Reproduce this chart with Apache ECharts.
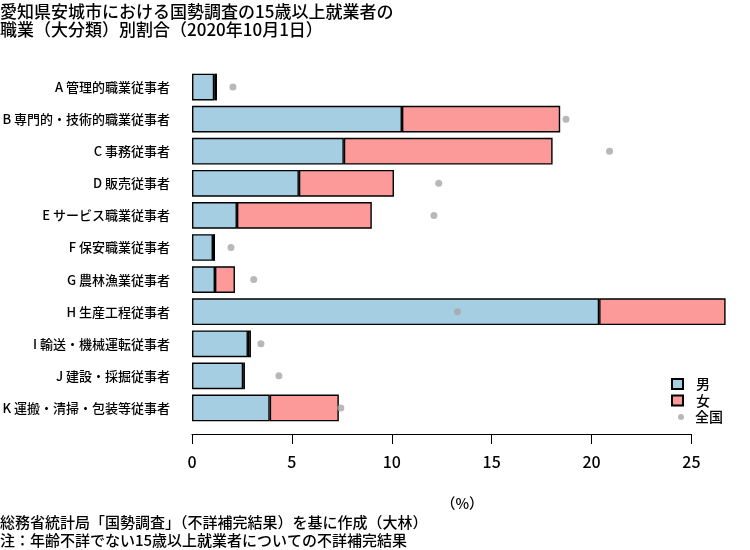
<!DOCTYPE html>
<html>
<head>
<meta charset="utf-8">
<script src="https://cdn.jsdelivr.net/npm/echarts@6/dist/echarts.min.js"></script>
<style>
html,body{margin:0;padding:0;background:#fff;}
#c{width:750px;height:550px;}
</style>
</head>
<body>
<div id="c"></div>
<script>
const categories = [
  'A 管理的職業従事者',
  'B 専門的・技術的職業従事者',
  'C 事務従事者',
  'D 販売従事者',
  'E サービス職業従事者',
  'F 保安職業従事者',
  'G 農林漁業従事者',
  'H 生産工程従事者',
  'I 輸送・機械運転従事者',
  'J 建設・採掘従事者',
  'K 運搬・清掃・包装等従事者'
];
const male =     [1.11, 10.51, 7.60, 5.35, 2.25, 1.05, 1.15, 20.38, 2.80, 2.56, 3.89];
const female =   [0.14,  7.92, 10.45, 4.76, 6.75, 0.10, 1.00, 6.33, 0.15, 0.09, 3.46];
const national = [2.05, 18.72, 20.90, 12.35, 12.11, 1.95, 3.09, 13.29, 3.45, 4.35, 7.45];
const xTicks = [0, 5, 10, 15, 20, 25];

const FONT = '"Noto Sans CJK JP", "Noto Sans", sans-serif';
const W = 500;
const chart = echarts.init(document.getElementById('c'), null, {renderer: 'canvas'});

const option = {
  backgroundColor: '#ffffff',
  animation: false,
  textStyle: {fontFamily: FONT, color: '#000'},
  title: [
    {
      text: '愛知県安城市における国勢調査の15歳以上就業者の\n職業（大分類）別割合（2020年10月1日）',
      left: 0, top: 3, padding: 0,
      textStyle: {fontFamily: FONT, fontSize: 17, lineHeight: 18, fontWeight: W, color: '#000'}
    },
    {
      text: '（%）',
      left: 441, top: 494, padding: 0,
      textStyle: {fontFamily: FONT, fontSize: 14.5, lineHeight: 18, fontWeight: W, color: '#000'}
    },
    {
      text: '総務省統計局「国勢調査」（不詳補完結果）を基に作成（大林）\n注：年齢不詳でない15歳以上就業者についての不詳補完結果',
      left: 0, top: 513, padding: 0,
      textStyle: {fontFamily: FONT, fontSize: 15, lineHeight: 18, fontWeight: W, color: '#000'}
    }
  ],
  legend: [
    {
      data: [{name: '男', icon: 'rect'}, {name: '女', icon: 'rect'}],
      orient: 'vertical',
      left: 671, top: 376, padding: 0,
      itemWidth: 11, itemHeight: 10, itemGap: 0.5,
      textStyle: {fontFamily: FONT, fontSize: 14, lineHeight: 16, fontWeight: W, color: '#000', padding: [0, 0, 0, 8]}
    },
    {
      data: [{name: '全国', icon: 'circle'}],
      orient: 'vertical',
      left: 678, top: 409, padding: 0,
      itemWidth: 6, itemHeight: 6, itemGap: 0,
      textStyle: {fontFamily: FONT, fontSize: 14, lineHeight: 16, fontWeight: W, color: '#000', padding: [0, 0, 0, 6]}
    }
  ],
  grid: [
    {left: 192, top: 71, width: 539.4, height: 353, containLabel: false, outerBoundsMode: 'none'},
    {left: 192, top: 400, width: 499.4, height: 34, containLabel: false, outerBoundsMode: 'none'}
  ],
  xAxis: [
    {gridIndex: 0, type: 'value', min: 0, max: 27, show: false},
    {
      gridIndex: 1, type: 'value', min: 0, max: 25, interval: 5,
      axisLine: {show: true, lineStyle: {color: '#000', width: 1}},
      axisTick: {show: true, inside: false, length: 10, lineStyle: {color: '#000', width: 1}},
      splitLine: {show: false},
      axisLabel: {
        margin: 20, fontSize: 16, color: '#000', fontFamily: FONT, fontWeight: W,
        formatter: function (v) { return xTicks.indexOf(v) >= 0 ? String(v) : ''; }
      }
    }
  ],
  yAxis: [
    {
      gridIndex: 0, type: 'category', data: categories, inverse: true,
      axisLine: {show: false}, axisTick: {show: false}, splitLine: {show: false},
      axisLabel: {margin: 22, fontSize: 13, color: '#000', fontFamily: FONT, fontWeight: W}
    },
    {gridIndex: 1, type: 'value', min: 0, max: 1, show: false}
  ],
  series: [
    {
      name: '男', type: 'bar', stack: 'all', xAxisIndex: 0, yAxisIndex: 0,
      data: male, barCategoryGap: '16.7%',
      itemStyle: {color: '#A6CEE3', borderColor: '#000', borderWidth: 1.4}
    },
    {
      name: '女', type: 'bar', stack: 'all', xAxisIndex: 0, yAxisIndex: 0,
      data: female, barCategoryGap: '16.7%',
      itemStyle: {color: '#FB9A99', borderColor: '#000', borderWidth: 1.4}
    },
    {
      name: '全国', type: 'scatter', xAxisIndex: 0, yAxisIndex: 0,
      data: national, symbol: 'circle', symbolSize: 7,
      itemStyle: {color: '#A6A6A6'}
    }
  ]
};
chart.setOption(option);
</script>
</body>
</html>
